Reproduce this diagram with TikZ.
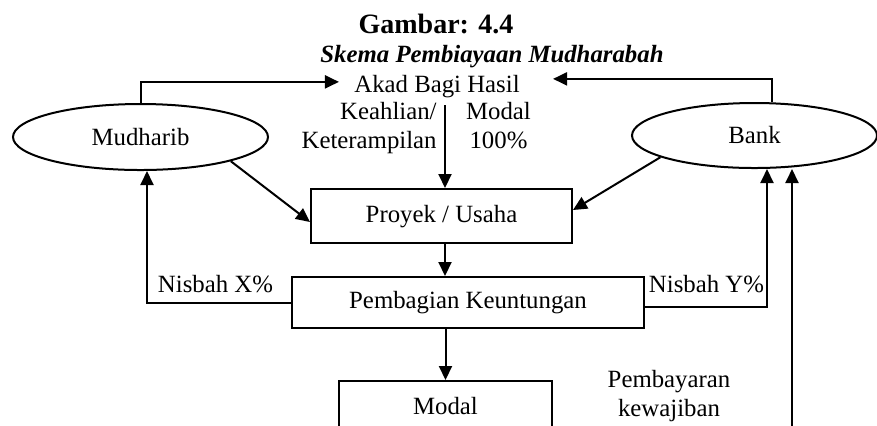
\documentclass[tikz,border=0pt]{standalone}
\usepackage{fontspec}
\setmainfont{Liberation Serif}
\usetikzlibrary{arrows.meta,shapes.geometric}

\begin{document}
\begin{tikzpicture}[
		x=0.5pt,
		y=-0.5pt,
		every node/.style={
			font=\fontsize{12.4}{14.5}\selectfont,
			inner sep=0pt,
		},
		party/.style={
			ellipse,
			draw,
			line width=1pt,
		},
		stage/.style={
			rectangle,
			draw,
			line width=1pt,
			text height=9.3pt,
			text depth=3.1pt,
		},
		flow/.style={
			line width=1pt,
			-{Triangle[length=7pt,width=6.5pt]},
		},
	]
		\useasboundingbox (0,0) rectangle (877,425);
		\fill[white] (0,0) rectangle (877,425);
		\clip (0,0) rectangle (877,425);

		% titles
		\node[font=\fontsize{14}{16}\selectfont\bfseries, anchor=base] (title) at (436,33) {Gambar: 4.4};
		\node[font=\fontsize{12.4}{14.5}\selectfont\bfseries\itshape, anchor=base] (subtitle) at (492,62) {Skema Pembiayaan Mudharabah};

		% parties
		\node[party, minimum width=127.5pt, minimum height=33pt] (mudharib) at (140.5,137) {Mudharib};
		\node[party, minimum width=122.5pt, minimum height=32.5pt] (bank) at (754.5,135.5) {Bank};

		% contract and contributions
		\node[anchor=base, inner xsep=7.5pt, inner ysep=3.75pt] (akad) at (437,92) {Akad Bagi Hasil};
		\node[align=right, anchor=east] (skill) at (437,127.7) {Keahlian/\\Keterampilan};
		\node[align=center] (capital) at (498.5,125.2) {Modal\\100\%};

		% project flow
		\node[stage, minimum width=130.5pt, minimum height=27pt] (proyek) at (441.5,216) {Proyek / Usaha};
		\node[stage, minimum width=176pt, minimum height=25.5pt] (pembagian) at (468,302.5) {Pembagian Keuntungan};
		\node[stage, minimum width=106.5pt, minimum height=27pt] (modal) at (445.5,408) {Modal};

		% shares
		\node[anchor=base] (nisbahx) at (215.5,292) {Nisbah X\%};
		\node[anchor=base] (nisbahy) at (706.5,292) {Nisbah Y\%};
		\node[align=center] (bayar) at (669,395.7) {Pembayaran\\kewajiban};
		\coordinate (payin) at (792,440);

		% connectors
		\draw[flow] (mudharib.north) |- ([yshift=2.1pt]akad.west);
		\draw[flow] ([xshift=8.75pt]bank.north) |- ([xshift=9pt,yshift=3.6pt]akad.east);
		\draw[flow] ([xshift=4pt]akad.south) -- ([xshift=4pt]akad.south |- proyek.north);
		\draw[flow] (mudharib.-15) -- ([yshift=-3pt]proyek.west);
		\draw[flow] (bank.193) -- ([yshift=3pt]proyek.east);
		\draw[flow] ([xshift=1.75pt]proyek.south) -- ([xshift=1.75pt]proyek.south |- pembagian.north);
		\draw[flow] (pembagian.south -| modal.north) -- (modal.north);
		\draw[flow] (pembagian.west) -| ([xshift=3.25pt]mudharib.south);
		\draw[flow] ([yshift=-2.25pt]pembagian.east) -| ([xshift=6.25pt]bank.south);
		\draw[flow] (payin) -- (payin |- bank.south);
	\end{tikzpicture}
\end{document}
